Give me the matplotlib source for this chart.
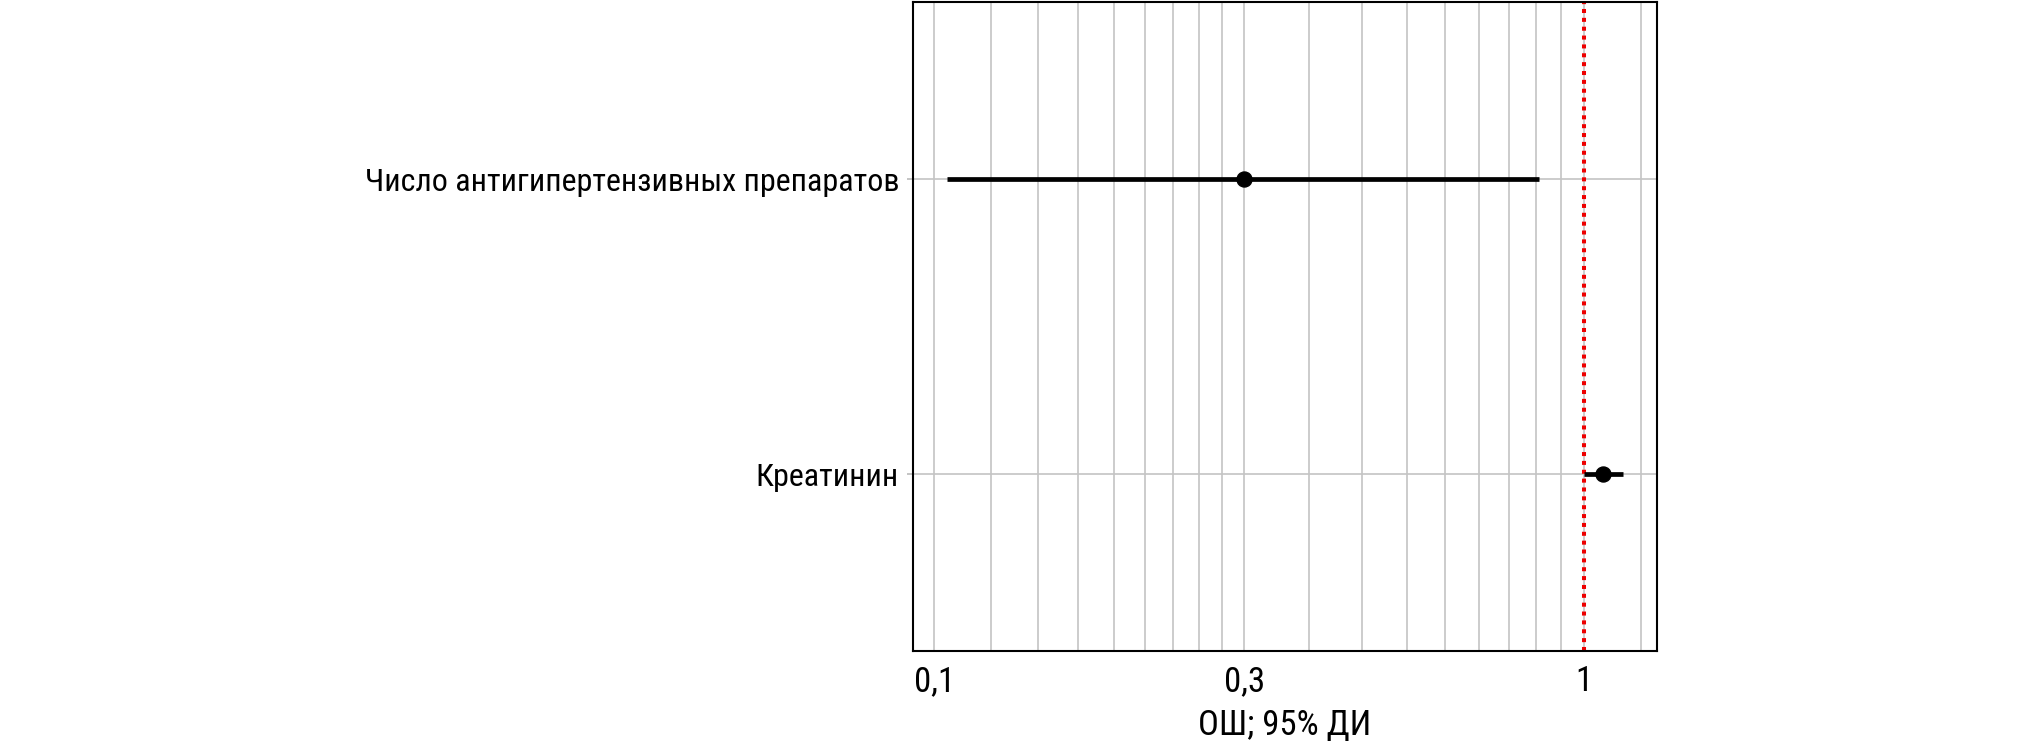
import numpy as np
import matplotlib
matplotlib.use('Agg')
import matplotlib.pyplot as plt
from matplotlib.ticker import NullFormatter

# Данные: отношение шансов (ОШ) и границы 95% ДИ
factors = ['Число антигипертензивных препаратов', 'Креатинин']
or_values = [0.300, 1.071]
ci_low = [0.1046, 1.000]
ci_high = [0.852, 1.149]

# Подписи оси X
major_ticks = [0.1, 0.3, 1]
tick_labels = ['0,1', '0,3', '1']

plt.rcParams['font.family'] = ['Roboto Condensed', 'DejaVu Sans']

grid_color = '#c4c4c4'

fig = plt.figure(figsize=(20.2, 7.48), dpi=100)
ax = fig.add_axes([0.452, 0.1297, 0.3683, 0.8673])

# Строки сверху вниз
y = np.arange(len(factors))[::-1]

ax.set_xscale('log')

# Линия "нет эффекта"
ax.axvline(1, color='#ee0000', lw=2.9, linestyle=(0, (1, 1.2)), zorder=2)

# Доверительные интервалы и точки
ax.hlines(y, ci_low, ci_high, color='black', lw=3.4, zorder=3)
ax.plot(or_values, y, 'o', color='black', ms=10.8, zorder=4)

# Основные и промежуточные деления
ax.set_xticks(major_ticks)
ax.set_xticklabels(tick_labels)
edges = major_ticks + [3]
minor = np.concatenate([np.linspace(a, b, 10)[1:-1] for a, b in zip(edges[:-1], edges[1:])])
ax.set_xticks(minor, minor=True)
ax.xaxis.set_minor_formatter(NullFormatter())

# Пределы по X: +5% в лог-шкале, как в ggplot (после set_xticks)
lo = np.log10(min(ci_low))
hi = np.log10(max(ci_high))
pad = 0.05 * (hi - lo)
ax.set_xlim(10 ** (lo - pad), 10 ** (hi + pad))
ax.set_ylim(-0.6, len(factors) - 0.4)

ax.set_yticks(y)
ax.set_yticklabels(factors, fontsize=23)

ax.grid(True, which='both', axis='x', color=grid_color, lw=1.2)
ax.grid(True, which='major', axis='y', color=grid_color, lw=1.2)
ax.set_axisbelow(True)

ax.tick_params(axis='x', which='both', length=0, labelsize=25, pad=10)
ax.tick_params(axis='y', length=4.3, width=1.4, color=grid_color, pad=5.8)

for s in ax.spines.values():
    s.set_linewidth(1.5)
    s.set_color('black')

ax.set_xlabel('ОШ; 95% ДИ', fontsize=25, labelpad=8)

fig.savefig('out.png', dpi=100)
